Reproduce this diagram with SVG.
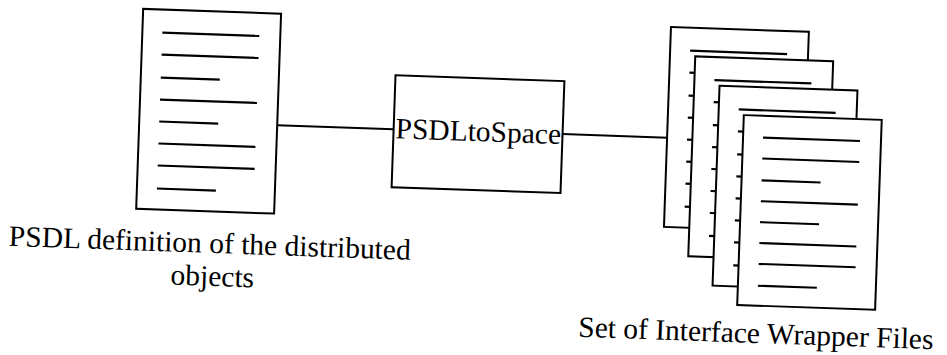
<svg xmlns="http://www.w3.org/2000/svg" xmlns:xlink="http://www.w3.org/1999/xlink" width="947" height="355" viewBox="0 0 947 355">
  <style>
    .edge { fill: none; stroke: #000; stroke-width: 2; }
    .sheet { fill: #fff; stroke: #000; stroke-width: 2; }
    .rule { stroke: #000; stroke-width: 2.2; stroke-linecap: butt; }
    .box { fill: #fff; stroke: #000; stroke-width: 2; }
    .label { font-family: "Liberation Serif", "Times New Roman", serif; font-size: 29.5px; fill: #000; }
  </style>
  <defs>
    <!-- one printed page: outline plus eight ruled text lines -->
    <symbol id="page" overflow="visible">
      <rect class="sheet" x="0" y="0" width="138" height="200"/>
      <line class="rule" x1="20" y1="23" x2="117" y2="23"/>
      <line class="rule" x1="20" y1="45" x2="117" y2="45"/>
      <line class="rule" x1="20" y1="68" x2="79" y2="68"/>
      <line class="rule" x1="20" y1="90" x2="117" y2="90"/>
      <line class="rule" x1="20" y1="112" x2="79" y2="112"/>
      <line class="rule" x1="20" y1="134" x2="117" y2="134"/>
      <line class="rule" x1="20" y1="156" x2="117" y2="156"/>
      <line class="rule" x1="20" y1="179" x2="79" y2="179"/>
    </symbol>
  </defs>

  <rect x="0" y="0" width="947" height="355" fill="#fff"/>

  <!-- whole figure is drawn slightly tilted -->
  <g transform="rotate(2 473 177)">
    <g id="connectors">
      <line class="edge" x1="275.5" y1="132" x2="392" y2="132"/>
      <line class="edge" x1="561" y1="131" x2="666" y2="131"/>
    </g>

    <g id="psdl-definition">
      <use xlink:href="#page" x="137.5" y="20.5"/>
      <text class="label" text-anchor="middle">
        <tspan x="216" y="262">PSDL definition of the distributed</tspan>
        <tspan x="216" y="295">objects</tspan>
      </text>
    </g>

    <g id="psdl-to-space">
      <rect class="box" x="392" y="78" width="169" height="112"/>
      <text class="label" x="394" y="141">PSDLtoSpace</text>
    </g>

    <g id="wrapper-files">
      <use xlink:href="#page" x="665.6" y="20.2"/>
      <use xlink:href="#page" x="690.9" y="48.7"/>
      <use xlink:href="#page" x="716.2" y="77.2"/>
      <use xlink:href="#page" transform="translate(741.5 105.7) scale(1 0.95)"/>
      <text class="label" x="583.5" y="333">Set of Interface Wrapper Files</text>
    </g>
  </g>
</svg>
